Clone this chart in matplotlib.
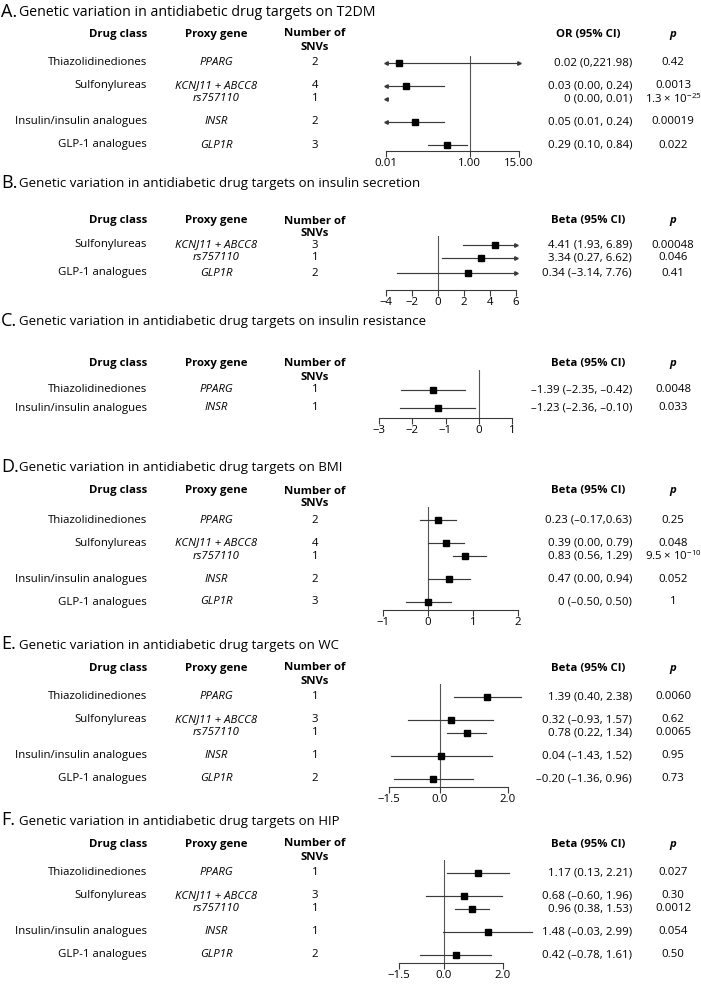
import matplotlib
matplotlib.use('Agg')
import matplotlib.pyplot as plt
import matplotlib.transforms as mtransforms
from matplotlib.ticker import NullLocator

plt.rcParams['font.family'] = ['Open Sans', 'DejaVu Sans']
plt.rcParams['mathtext.fontset'] = 'custom'
plt.rcParams['mathtext.rm'] = 'Open Sans'
plt.rcParams['mathtext.it'] = 'Open Sans:italic'
plt.rcParams['mathtext.bf'] = 'Open Sans:bold'

W, H = 701, 989

# ---- data ----
# A. T2DM (OR)
a_drug = ['Thiazolidinediones', 'Sulfonylureas', '', 'Insulin/insulin analogues', 'GLP-1 analogues']
a_gene = ['PPARG', 'KCNJ11 + ABCC8', 'rs757110', 'INSR', 'GLP1R']
a_snv = [2, 4, 1, 2, 3]
a_est = [0.02, 0.03, 0, 0.05, 0.29]
a_lo = [0, 0.00, 0.00, 0.01, 0.10]
a_hi = [221.98, 0.24, 0.01, 0.24, 0.84]
a_ci = ['0.02 (0,221.98)', '0.03 (0.00, 0.24)', '0 (0.00, 0.01)', '0.05 (0.01, 0.24)', '0.29 (0.10, 0.84)']
a_p = ['0.42', '0.0013', '1.3 × 10$^{-25}$', '0.00019', '0.022']

# B. insulin secretion
b_drug = ['Sulfonylureas', '', 'GLP-1 analogues']
b_gene = ['KCNJ11 + ABCC8', 'rs757110', 'GLP1R']
b_snv = [3, 1, 2]
b_est = [4.41, 3.34, 2.31]
b_lo = [1.93, 0.27, -3.14]
b_hi = [6.89, 6.62, 7.76]
b_ci = ['4.41 (1.93, 6.89)', '3.34 (0.27, 6.62)', '0.34 (–3.14, 7.76)']
b_p = ['0.00048', '0.046', '0.41']

# C. insulin resistance
c_drug = ['Thiazolidinediones', 'Insulin/insulin analogues']
c_gene = ['PPARG', 'INSR']
c_snv = [1, 1]
c_est = [-1.39, -1.23]
c_lo = [-2.35, -2.36]
c_hi = [-0.42, -0.10]
c_ci = ['–1.39 (–2.35, –0.42)', '–1.23 (–2.36, –0.10)']
c_p = ['0.0048', '0.033']

# D. BMI
d_drug = ['Thiazolidinediones', 'Sulfonylureas', '', 'Insulin/insulin analogues', 'GLP-1 analogues']
d_gene = ['PPARG', 'KCNJ11 + ABCC8', 'rs757110', 'INSR', 'GLP1R']
d_snv = [2, 4, 1, 2, 3]
d_est = [0.23, 0.39, 0.83, 0.47, 0]
d_lo = [-0.17, 0.00, 0.56, 0.00, -0.50]
d_hi = [0.63, 0.79, 1.29, 0.94, 0.50]
d_ci = ['0.23 (–0.17,0.63)', '0.39 (0.00, 0.79)', '0.83 (0.56, 1.29)', '0.47 (0.00, 0.94)', '0 (–0.50, 0.50)']
d_p = ['0.25', '0.048', '9.5 × 10$^{-10}$', '0.052', '1']

# E. WC
e_drug = d_drug
e_gene = d_gene
e_snv = [1, 3, 1, 1, 2]
e_est = [1.39, 0.32, 0.78, 0.04, -0.20]
e_lo = [0.40, -0.93, 0.22, -1.43, -1.36]
e_hi = [2.38, 1.57, 1.34, 1.52, 0.96]
e_ci = ['1.39 (0.40, 2.38)', '0.32 (–0.93, 1.57)', '0.78 (0.22, 1.34)', '0.04 (–1.43, 1.52)', '–0.20 (–1.36, 0.96)']
e_p = ['0.0060', '0.62', '0.0065', '0.95', '0.73']

# F. HIP
f_drug = d_drug
f_gene = d_gene
f_snv = [1, 3, 1, 1, 2]
f_est = [1.17, 0.68, 0.96, 1.48, 0.42]
f_lo = [0.13, -0.60, 0.38, -0.03, -0.78]
f_hi = [2.21, 1.96, 1.53, 2.99, 1.61]
f_ci = ['1.17 (0.13, 2.21)', '0.68 (–0.60, 1.96)', '0.96 (0.38, 1.53)', '1.48 (–0.03, 2.99)', '0.42 (–0.78, 1.61)']
f_p = ['0.027', '0.30', '0.0012', '0.054', '0.50']

titles = ['Genetic variation in antidiabetic drug targets on T2DM',
          'Genetic variation in antidiabetic drug targets on insulin secretion',
          'Genetic variation in antidiabetic drug targets on insulin resistance',
          'Genetic variation in antidiabetic drug targets on BMI',
          'Genetic variation in antidiabetic drug targets on WC',
          'Genetic variation in antidiabetic drug targets on HIP']


def fx(x):
    return x / W


def fy(y):
    return 1 - y / H


fig = plt.figure(figsize=(W / 100, H / 100), dpi=100)
FS = 8.2
LC = '#3a3a3a'


def panel(letter, title, data, lay):
    drug, gene, snv, est, lo, hi, ci, pv = data
    ty = lay['title']
    fig.text(fx(1), fy(ty), letter + '.', fontsize=13, va='center')
    fig.text(fx(19), fy(ty + 1), title, fontsize=lay['tfs'], va='center')

    hy = lay['head']
    fig.text(fx(147), fy(hy), 'Drug class', ha='right', va='center', fontsize=FS, weight='bold')
    fig.text(fx(216), fy(hy), 'Proxy gene', ha='center', va='center', fontsize=FS, weight='bold')
    fig.text(fx(315), fy(hy), 'Number of', ha='center', va='center', fontsize=FS, weight='bold')
    fig.text(fx(315), fy(hy + 13), 'SNVs', ha='center', va='center', fontsize=FS, weight='bold')
    fig.text(fx(588), fy(hy), lay['est_head'], ha='center', va='center', fontsize=FS, weight='bold')
    fig.text(fx(673), fy(hy), 'p', ha='center', va='center', fontsize=FS, weight='bold', style='italic')

    # row positions from the group structure
    ys = []
    y = lay['first']
    for i, d in enumerate(drug):
        if i > 0:
            y += lay['sub'] if d == '' else lay['gap']
        ys.append(y)

    x0, x1, top, bottom = lay['x0'], lay['x1'], lay['top'], lay['bottom']
    ax = fig.add_axes([fx(x0), fy(bottom), (x1 - x0) / W, (bottom - top) / H])
    ax.patch.set_alpha(0)
    if lay.get('log'):
        ax.set_xscale('log')
    xmin, xmax = lay['xlim']
    ax.set_xlim(xmin, xmax)
    ax.set_ylim(bottom, top)
    for s in ['top', 'right', 'left']:
        ax.spines[s].set_visible(False)
    ax.spines['bottom'].set_color(LC)
    ax.spines['bottom'].set_linewidth(0.8)
    ax.set_yticks([])
    ax.set_xticks(lay['ticks'], lay['ticklabels'])
    ax.xaxis.set_minor_locator(NullLocator())
    ax.tick_params(axis='x', length=4, width=0.8, color=LC, labelsize=FS, pad=1)
    ax.axvline(lay['ref'], color='#555555', lw=0.8)

    clip = lay['clip']
    for i, y in enumerate(ys):
        a, b = lo[i], hi[i]
        larr = clip and a <= xmin
        rarr = clip and b > xmax
        if clip:
            a = max(a, xmin)
            b = min(b, xmax)
        ax.plot([a, b], [y, y], color=LC, lw=0.85, clip_on=False)
        if larr:
            ax.plot(xmin, y, marker='<', ms=2.5, color=LC, clip_on=False)
        if rarr:
            ax.plot(xmax, y, marker='>', ms=2.5, color=LC, clip_on=False)
        if (not clip) or (xmin <= est[i] <= xmax):
            ax.plot(est[i], y, marker='s', ms=3.8, color='black', clip_on=False)

    tr = mtransforms.blended_transform_factory(fig.transFigure, ax.transData)
    for i, y in enumerate(ys):
        fig.text(fx(147), y, drug[i], transform=tr, ha='right', va='center', fontsize=FS)
        fig.text(fx(216), y, gene[i], transform=tr, ha='center', va='center', fontsize=FS, style='italic')
        fig.text(fx(315), y, str(snv[i]), transform=tr, ha='center', va='center', fontsize=FS)
        fig.text(fx(632), y, ci[i], transform=tr, ha='right', va='center', fontsize=FS)
        fig.text(fx(673), y, pv[i], transform=tr, ha='center', va='center', fontsize=FS)


panel('A', titles[0], (a_drug, a_gene, a_snv, a_est, a_lo, a_hi, a_ci, a_p),
      dict(title=12, tfs=10.2, head=34, first=63, gap=23, sub=13, est_head='OR (95% CI)',
           x0=386, x1=519, top=56, bottom=151, log=True, xlim=(0.01, 15),
           ticks=[0.01, 1, 15], ticklabels=['0.01', '1.00', '15.00'], ref=1, clip=True))
panel('B', titles[1], (b_drug, b_gene, b_snv, b_est, b_lo, b_hi, b_ci, b_p),
      dict(title=183, tfs=9.5, head=221, first=245, gap=15, sub=13, est_head='Beta (95% CI)',
           x0=386, x1=516, top=236, bottom=290, xlim=(-4, 6),
           ticks=[-4, -2, 0, 2, 4, 6], ticklabels=['−4', '−2', '0', '2', '4', '6'], ref=0, clip=True))
panel('C', titles[2], (c_drug, c_gene, c_snv, c_est, c_lo, c_hi, c_ci, c_p),
      dict(title=321, tfs=9.5, head=364, first=390, gap=18, sub=13, est_head='Beta (95% CI)',
           x0=379, x1=512, top=370, bottom=418, xlim=(-3, 1),
           ticks=[-3, -2, -1, 0, 1], ticklabels=['−3', '−2', '−1', '0', '1'], ref=0, clip=True))
panel('D', titles[3], (d_drug, d_gene, d_snv, d_est, d_lo, d_hi, d_ci, d_p),
      dict(title=467, tfs=9.5, head=491, first=520, gap=23, sub=13, est_head='Beta (95% CI)',
           x0=383, x1=518, top=507, bottom=610, xlim=(-1, 2),
           ticks=[-1, 0, 1, 2], ticklabels=['−1', '0', '1', '2'], ref=0, clip=True))
panel('E', titles[4], (e_drug, e_gene, e_snv, e_est, e_lo, e_hi, e_ci, e_p),
      dict(title=644, tfs=9.5, head=668, first=697, gap=23, sub=13, est_head='Beta (95% CI)',
           x0=389, x1=508, top=684, bottom=787, xlim=(-1.5, 2),
           ticks=[-1.5, 0, 2], ticklabels=['−1.5', '0.0', '2.0'], ref=0, clip=False))
panel('F', titles[5], (f_drug, f_gene, f_snv, f_est, f_lo, f_hi, f_ci, f_p),
      dict(title=820, tfs=9.5, head=844, first=873, gap=23, sub=13, est_head='Beta (95% CI)',
           x0=399, x1=503, top=860, bottom=963, xlim=(-1.5, 2),
           ticks=[-1.5, 0, 2], ticklabels=['−1.5', '0.0', '2.0'], ref=0, clip=False))

fig.savefig('out.png', dpi=100, facecolor='white')
